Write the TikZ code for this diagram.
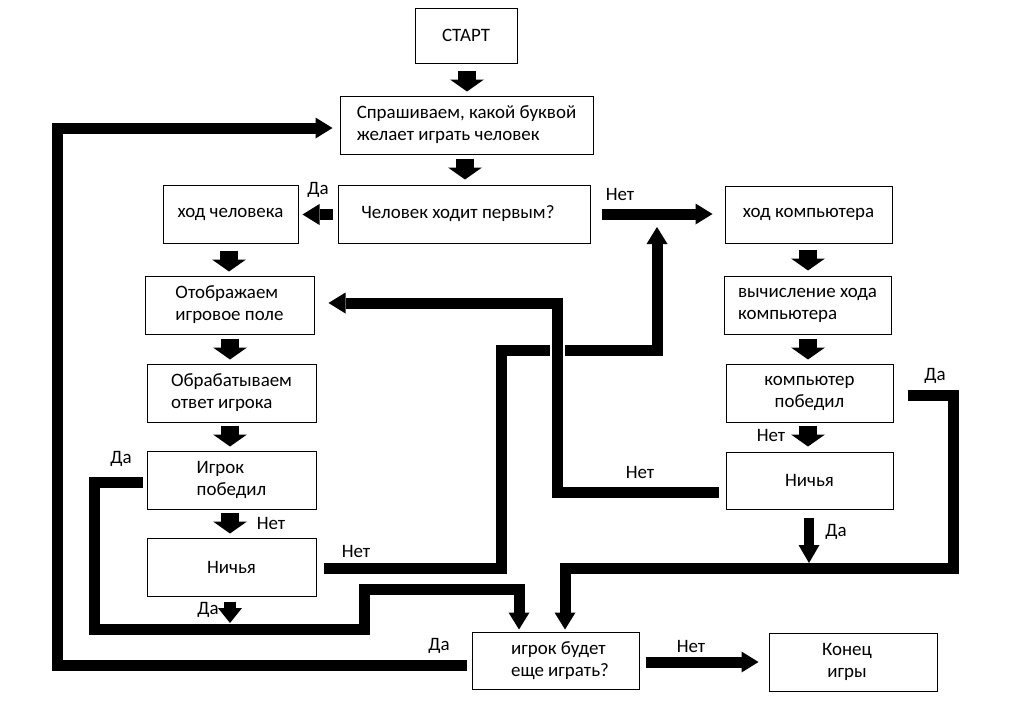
\documentclass[tikz,border=0pt]{standalone}
\usepackage{fontspec}
\setmainfont{Carlito}
\usetikzlibrary{arrows.meta,calc}
\begin{document}
\begin{tikzpicture}[x=0.75pt,y=-0.75pt,
  box/.style={draw,line width=0.75pt,inner sep=0pt,align=left,font=\fontsize{14.2}{16.5}\selectfont},
  bs/.style={minimum width=126.75pt,minimum height=43.5pt},
  rs/.style={minimum width=125.25pt,minimum height=43.5pt},
  lbl/.style={inner sep=0pt,font=\fontsize{14.2}{16.5}\selectfont},
  blk/.style={line width=13.5pt,-{Triangle[width=25.5pt,length=9pt,line width=0pt]}},
  wire/.style={line width=8.25pt,line join=miter},
  warr/.style={wire,-{Triangle[width=15.75pt,length=12.75pt,line width=0pt]}},
]
\useasboundingbox (0,0) rectangle (1009,718);
% boxes
\node[box,minimum width=76.5pt,minimum height=41.25pt] (start) at (466,35.5) {СТАРТ};
\node[box,minimum width=189.75pt,minimum height=43.5pt] (ask) at (466.5,125) {Спрашиваем, какой буквой\\желает играть человек};
\node[box,minimum width=189pt,minimum height=43.5pt] (first) at (464,214) {Человек ходит первым?\hspace*{9pt}};
\node[box,minimum width=101.25pt,minimum height=43.5pt] (human) at (230.5,214) {ход человека};
\node[box,rs,minimum height=42.75pt] (comp) at (808.5,214.5) {ход компьютера};
\node[box,rs] (calc) at (807.5,305) {вычисление хода\\компьютера};
\node[box,rs,align=center] (cwon) at (809.5,393) {компьютер\\победил};
\node[box,rs,minimum height=42.75pt] (cdraw) at (809.5,480.5) {Ничья};
\node[box,rs,minimum height=42.75pt] (again) at (555.5,660.5) {\hspace*{6.75pt}игрок будет\\\hspace*{6.75pt}еще играть?};
\node[box,align=center,minimum width=126pt,minimum height=43.5pt] (fin) at (853,662) {Конец\hspace*{9pt}\\игры\hspace*{9pt}};
\node[box,bs] (show) at (229.5,305) {Отображаем\\игровое поле};
\node[box,bs] (proc) at (231.5,393) {Обрабатываем\\ответ игрока};
\node[box,bs] (hwon) at (231.5,480) {Игрок\\победил};
\node[box,bs] (hdraw) at (231.5,567) {Ничья};
% free ends
\coordinate (tipA) at (657,227);
\coordinate (tipB) at (809,563);
\coordinate (tipC) at (230,623);
% block arrows
\draw[blk] ($(start.south)+(1,7)$) -- ($(ask.north)+(0.5,-4)$);
\draw[blk] ($(ask.south)+(-1.5,4)$) -- ($(first.north)+(1,-5)$);
\draw[blk] ($(human.south)+(-1.5,7)$) -- ($(show.north)+(-0.5,-4)$);
\draw[blk] ($(show.south)+(0.5,4)$) -- ($(proc.north)+(-1.5,-4)$);
\draw[blk] ($(proc.south)+(-1.5,3)$) -- ($(hwon.north)+(-1.5,-4)$);
\draw[blk] ($(hwon.south)+(-1.5,3)$) -- ($(hdraw.north)+(-1.5,-4)$);
\draw[blk] ($(comp.south)+(-0.5,6)$) -- ($(calc.north)+(0.5,-5)$);
\draw[blk] ($(calc.south)+(0.5,4)$) -- ($(cwon.north)+(-1.5,-4)$);
\draw[blk] ($(cwon.south)+(-1.5,3)$) -- ($(cdraw.north)+(-1.5,-5)$);
% straight arrows
\draw[warr] ($(first.west)+(-5,0.5)$) -- ($(human.east)+(4,0.5)$);
\draw[warr] ($(first.east)+(11,0)$) -- ($(comp.west)+(-12,-0.5)$);
\draw[warr] ($(again.east)+(6,1.5)$) -- ($(fin.west)+(-10,0)$);
\draw[line width=7.5pt,-{Triangle[width=15.75pt,length=13.5pt,line width=0pt]}] ($(cdraw.south)+(-0.5,8)$) -- (tipB);
\draw[line width=9pt,-{Triangle[width=18pt,length=11.25pt,line width=0pt]}] ($(hdraw.south)+(-1.5,5)$) -- (tipC);
% routed connectors
\draw[warr] ($(again.west)+(-5,4.5)$) -- (57,665) -- (57,128) -- ($(ask.west)+(-7,3)$);
\draw[warr] ($(hwon.west)+(-4,2)$) -- (94,482) -- (94,629) -- (364,629) -- (364,589) -- (519,589) -- ($(again.north)+(-36.5,-2)$);
\draw[warr] ($(hdraw.east)+(7,1)$) -- (501,568) -- (501,350) -- (657,350) -- (tipA);
\draw[warr,preaction={draw=white,line width=11.25pt,-}] ($(cdraw.west)+(-7,11.5)$) -- (557,492) -- (557,303) -- ($(show.east)+(14,-2)$);
\draw[warr] ($(cwon.east)+(14,2)$) -- (953,395) -- (953,568) -- (565,568) -- ($(again.north)+(9.5,-2)$);
% labels
\node[lbl] (l1) at (318,190) {Да};
\node[lbl] (l2) at (620,194) {Нет};
\node[lbl] (l3) at (935,376) {Да};
\node[lbl] (l4) at (771,435) {Нет};
\node[lbl] (l5) at (640,472) {Нет};
\node[lbl] (l6) at (836,532) {Да};
\node[lbl] (l7) at (691,646) {Нет};
\node[lbl] (l8) at (121,459) {Да};
\node[lbl] (l9) at (271,523) {Нет};
\node[lbl] (l10) at (356,551) {Нет};
\node[lbl] (l11) at (208,610) {Да};
\node[lbl] (l12) at (439,646) {Да};
\end{tikzpicture}
\end{document}
